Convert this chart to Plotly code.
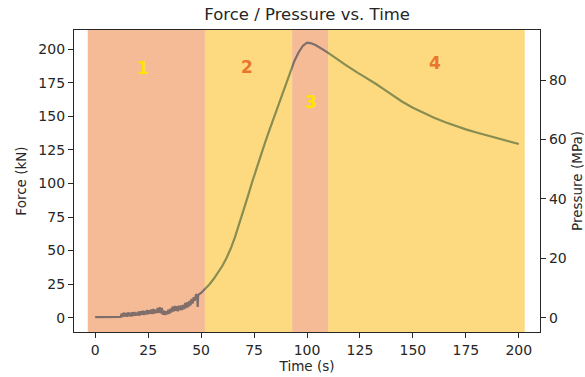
import plotly.graph_objects as go

# ---- data ----
time_s = [0, 4, 8, 12, 12.5, 13, 13.5, 14, 14.5, 15, 15.5, 16, 16.5, 17, 17.5, 18, 18.5, 19, 19.5,
          20, 20.5, 21, 21.5, 22, 22.5, 23, 23.5, 24, 24.5, 25, 25.5, 26, 26.5, 27, 27.5, 28, 28.5,
          29, 29.5, 30, 30.5, 31, 31.5, 32, 32.5, 33, 33.5, 34, 34.5, 35, 35.5, 36, 36.5, 37, 37.5,
          38, 38.5, 39, 39.5, 40, 40.5, 41, 41.5, 42, 42.5, 43, 43.5, 44, 44.5, 45, 45.5, 46, 46.5,
          47, 47.5, 48, 48.2, 48.4, 48.6, 49, 50, 52, 54, 56, 58, 60, 62, 64, 66, 68, 70, 72, 74, 76,
          78, 80, 82, 84, 86, 88, 90, 92, 94, 96, 98, 100, 102, 104, 106, 108, 110, 112, 114, 116,
          118, 120, 122, 124, 126, 128, 130, 133, 136, 140, 145, 150, 155, 160, 165, 170, 175, 180,
          185, 190, 195, 200]
force_kN = [0.5, 0.5, 0.5, 0.6, 3.2, 0.6, 3.8, 1.0, 3.4, 0.8, 4.0, 1.2, 3.6, 1.0, 4.0, 1.4, 4.2, 1.6, 3.8,
            1.8, 4.6, 1.6, 4.8, 2.2, 5.2, 2.0, 5.0, 2.4, 5.8, 2.6, 5.6, 3.0, 6.2, 2.8, 6.6, 3.2, 6.0,
            3.6, 7.2, 3.8, 7.8, 3.4, 7.4, 2.2, 5.2, 2.0, 4.8, 2.6, 6.0, 3.0, 6.8, 4.0, 8.2, 4.6, 8.8,
            5.2, 8.6, 4.8, 9.0, 5.6, 9.2, 5.8, 9.6, 6.4, 11.0, 7.2, 11.6, 8.0, 12.6, 9.2, 14.0, 10.6,
            15.4, 12.6, 16.8, 17.4, 15.0, 8.0, 16.5, 17.5, 18.5, 21.5, 25.0, 29.0, 33.5, 38.5, 44.5,
            51.5, 60.0, 69.5, 79.5, 90.0, 100.5, 110.5, 120.0, 129.5, 138.5, 147.5, 156.5, 165.5,
            174.5, 183.0, 191.0, 197.5, 202.3, 204.8, 204.3, 203.0, 201.3, 199.2, 197.2, 195.2,
            193.0, 190.7, 188.4, 186.2, 184.2, 182.3, 180.4, 178.6, 176.6, 173.6, 170.4, 166.0,
            160.8, 156.3, 152.3, 148.8, 145.7, 142.8, 140.2, 137.9, 135.8, 133.6, 131.4, 129.3]

phase_labels = ["1", "2", "3", "4"]
phase_edges = [-3.5, 51.8, 93.0, 110.0, 202.8]
phase_label_x = [22.7, 71.9, 102.0, 160.3]
phase_label_y = [186.0, 186.7, 160.6, 189.6]

x_ticks = [0, 25, 50, 75, 100, 125, 150, 175, 200]
y_ticks = [0, 25, 50, 75, 100, 125, 150, 175, 200]
y2_ticks = [0, 20, 40, 60, 80]

# ---- styling ----
span_colors = ["rgb(233,119,45)", "rgb(251,181,0)", "rgb(233,119,45)", "rgb(251,181,0)"]
label_colors = ["#FFE400", "#E8762C", "#FFE400", "#E8762C"]
FONT = "DejaVu Sans"
INK = "#262626"

fig = go.Figure()
fig.add_trace(go.Scatter(x=time_s, y=force_kN, mode="lines",
                         line=dict(color="rgb(20,100,165)", width=2.2), showlegend=False, hoverinfo="skip"))
fig.add_trace(go.Scatter(x=[None], y=[None], yaxis="y2", mode="lines", showlegend=False))

for i in range(len(phase_labels)):
    fig.add_shape(type="rect", xref="x", yref="paper",
                  x0=phase_edges[i], x1=phase_edges[i + 1], y0=0, y1=1,
                  fillcolor=span_colors[i], opacity=0.5, line=dict(width=0), layer="above")
    fig.add_annotation(x=phase_label_x[i], y=phase_label_y[i], text="<b>%s</b>" % phase_labels[i],
                       showarrow=False, font=dict(family=FONT, size=17, color=label_colors[i]))

fig.update_layout(
    width=585, height=377,
    margin=dict(l=74, r=45, t=30, b=45),
    paper_bgcolor="white", plot_bgcolor="white",
    font=dict(family=FONT, size=13, color=INK),
    title=dict(text="Force / Pressure vs. Time", x=0.525, xanchor="center", y=0.962, yanchor="middle",
               font=dict(family=FONT, size=16.5, color=INK)),
    xaxis=dict(range=[-10, 210], tickvals=x_ticks, ticks="outside", ticklen=5, tickcolor=INK,
               showline=True, linecolor=INK, linewidth=1.2, mirror=True, showgrid=False, zeroline=False,
               automargin=False,
               tickfont=dict(size=14), title=dict(text="Time (s)", standoff=2, font=dict(size=13.5))),
    yaxis=dict(range=[-10.6, 214.2], tickvals=y_ticks, ticks="outside", ticklen=5, tickcolor=INK,
               showline=True, linecolor=INK, linewidth=1.2, showgrid=False, zeroline=False,
               automargin=False,
               tickfont=dict(size=14), title=dict(text="Force (kN)", standoff=8, font=dict(size=13.5))),
    yaxis2=dict(range=[-4.81, 96.87], tickvals=y2_ticks, ticks="outside", ticklen=5, tickcolor=INK,
                overlaying="y", side="right", anchor="x", automargin=False,
                showline=True, linecolor=INK, linewidth=1.2, showgrid=False, zeroline=False,
                tickfont=dict(size=14), title=dict(text="Pressure (MPa)", standoff=7, font=dict(size=13.5))),
)

fig.write_html("out.html")
